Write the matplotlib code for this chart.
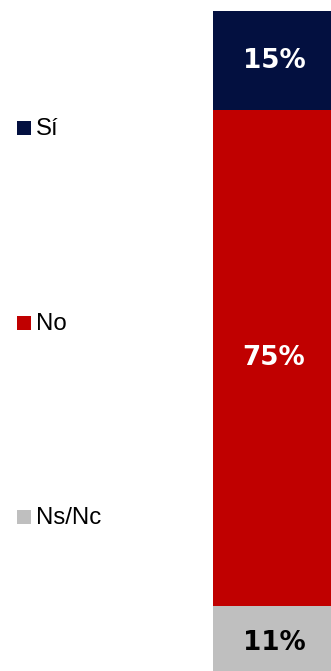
import matplotlib
matplotlib.use("Agg")
import matplotlib.pyplot as plt
from matplotlib.patches import Rectangle

categories = ["Sí", "No", "Ns/Nc"]
values = [15, 75, 11]
labels = ["15%", "75%", "11%"]
colors = ["#031040", "#C00000", "#BFBFBF"]
label_colors = ["white", "white", "black"]

W, H = 331, 671
fig = plt.figure(figsize=(W / 100, H / 100), dpi=100)

# bar axes in pixel layout
x0, x1 = 213, 335
ytop, ybot = 11, 679
ax = fig.add_axes([x0 / W, 1 - ybot / H, (x1 - x0) / W, (ybot - ytop) / H])
ax.set_xlim(-0.5, 0.5)
ax.set_ylim(0, sum(values))
ax.axis("off")

bottom = 0
for cat, v, lab, c, lc in list(zip(categories, values, labels, colors, label_colors))[::-1]:
    ax.bar(0, v, width=1.0, bottom=bottom, color=c, linewidth=0)
    ax.text(0, bottom + v / 2, lab, ha="center", va="center", color=lc,
            fontsize=18.8, fontweight="bold", family="DejaVu Sans")
    bottom += v

# legend
leg_y = [128, 323, 517]
for cat, c, yc in zip(categories, colors, leg_y):
    s = 14
    fig.patches.append(Rectangle((17 / W, 1 - (yc + s / 2) / H), s / W, s / H,
                                 transform=fig.transFigure, color=c, linewidth=0))
    fig.text(36 / W, 1 - (yc + 1) / H, cat, ha="left", va="center",
             fontsize=17.3, family="Liberation Sans", color="black")

fig.savefig("out.png", dpi=100)
